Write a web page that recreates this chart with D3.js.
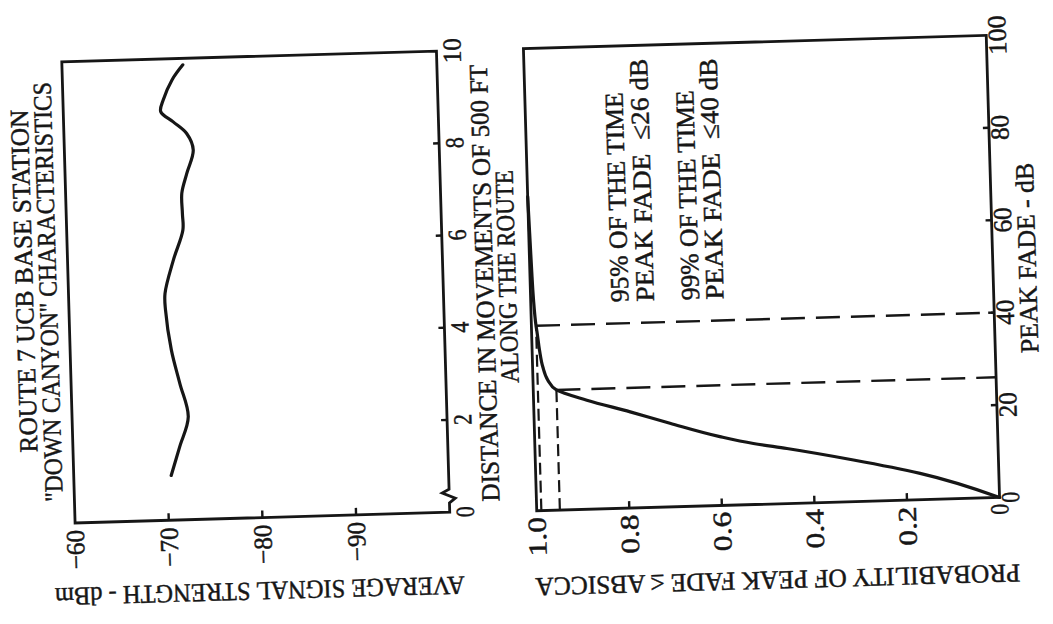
<!DOCTYPE html>
<html>
<head>
<meta charset="utf-8">
<script src="https://cdn.jsdelivr.net/npm/d3@7"></script>
<style>
  body { margin: 0; background: #fff; }
  svg { display: block; }
  text { font-family: "Liberation Serif", "DejaVu Serif", serif; font-size: 26px; fill: #161616; stroke: #161616; stroke-width: 0.45px; white-space: pre; }
</style>
</head>
<body>
<svg id="fig" width="1053" height="624"></svg>
<script>
// Route 7, UCB base station: average signal strength along the route
const distanceUnits = [0.97, 1.59, 2.23, 2.96, 3.69, 4.56, 4.92, 5.64, 6.28, 6.64, 7.08, 7.51, 8.01, 8.37, 8.63, 8.86, 9.11, 9.54, 9.86];
const avgSignalDbm  = [-70.4, -71.4, -72.4, -71.6, -70.8, -70.3, -70.3, -71.3, -72.4, -72.4, -72.4, -73.0, -73.75, -73.1, -71.7, -70.4, -70.7, -71.7, -72.9];

// Cumulative distribution of peak fade
const peakFadeDb = [0, 5.7, 9.0, 11.9, 13.2, 14.9, 18.1, 20.8, 23.6, 26, 28.2, 31.1, 34.7, 38.4, 40, 46, 52, 60, 68];
const probAtMost = [0, 0.170, 0.313, 0.456, 0.528, 0.600, 0.707, 0.792, 0.885, 0.95, 0.968, 0.978, 0.984, 0.988, 0.99, 0.994, 0.996, 0.998, 1.0];

// Marked percentiles
const markerProb = [0.95, 0.99];
const markerFade = [26, 40];

// Axis ticks
const distanceTicks = [0, 2, 4, 6, 8, 10];
const signalTicks   = [-60, -70, -80, -90];
const fadeTicks     = [0, 20, 40, 60, 80, 100];
const probTicks     = [1.0, 0.8, 0.6, 0.4, 0.2, 0];

const svg = d3.select("#fig");
// The sheet is turned a quarter turn, and sits slightly askew.
const page = svg.append("g")
  .attr("transform", "rotate(-1.65 526 312) translate(0 624) rotate(-90)");

const INK = "#161616";
const PITCH = 14.2, GLYPH = 11, HALF_CAP = 8.6;
const typedLen = s => (s.length - 1) * PITCH + GLYPH;

function typed(g, str, x, y, len, anchor = "middle", rot = 0) {
  const t = g.append("text")
    .text(str)
    .attr("text-anchor", anchor)
    .attr("textLength", len == null ? typedLen(str) : len)
    .attr("lengthAdjust", "spacingAndGlyphs");
  if (rot) t.attr("transform", `translate(${x},${y}) rotate(${rot})`);
  else t.attr("x", x).attr("y", y);
  return t;
}

/* ---------------- left panel: signal strength vs distance ---------------- */
const xL = d3.scaleLinear().domain([0, 10]).range([114.1, 575.4]);
const yL = d3.scaleLinear().domain([-60, -100]).range([69.2, 444]);
const gL = page.append("g");

// frame with a break mark on the distance axis near the origin
const brk = [[0.2, 0], [0.3, 6], [0.42, -7], [0.5, 0]];
const framePath = d3.path();
framePath.moveTo(xL(0), yL(-100));
brk.forEach(([d, o]) => framePath.lineTo(xL(d), yL(-100) + o));
framePath.lineTo(xL(10), yL(-100));
framePath.lineTo(xL(10), yL(-60));
framePath.lineTo(xL(0), yL(-60));
framePath.closePath();
gL.append("path").attr("d", framePath.toString())
  .attr("fill", "none").attr("stroke", INK).attr("stroke-width", 2.8)
  .attr("stroke-linejoin", "miter");

// inward ticks
gL.selectAll(".tx").data(distanceTicks.slice(1, -1)).join("line")
  .attr("x1", d => xL(d)).attr("x2", d => xL(d))
  .attr("y1", yL(-100)).attr("y2", yL(-100) - 6)
  .attr("stroke", INK).attr("stroke-width", 2.4);
gL.selectAll(".ty").data(signalTicks.slice(1)).join("line")
  .attr("x1", xL(0)).attr("x2", xL(0) + 7)
  .attr("y1", d => yL(d)).attr("y2", d => yL(d))
  .attr("stroke", INK).attr("stroke-width", 2.4);

// tick labels
distanceTicks.forEach(d => typed(gL, String(d), xL(d), yL(-100) + 7 + 2 * HALF_CAP));
signalTicks.forEach(d => typed(gL, "\u2212" + Math.abs(d), xL(0) - 7, yL(d) + HALF_CAP, null, "end"));

// curve
gL.append("path")
  .datum(distanceUnits.map((d, i) => [d, avgSignalDbm[i]]))
  .attr("d", d3.line().x(d => xL(d[0])).y(d => yL(d[1])).curve(d3.curveCatmullRom.alpha(0.5)))
  .attr("fill", "none").attr("stroke", INK).attr("stroke-width", 3.2)
  .attr("stroke-linecap", "round");

// titles
typed(gL, "ROUTE 7 UCB BASE STATION", 357.4, 25.1 + HALF_CAP, 343);
typed(gL, "\"DOWN CANYON\" CHARACTERISTICS", 345.8, 48.8 + HALF_CAP, 420);
typed(gL, "DISTANCE IN MOVEMENTS OF 500 FT", 342.2, 485.4 + HALF_CAP, 437);
typed(gL, "ALONG THE ROUTE", 348, 508 + HALF_CAP, 213);
typed(gL, "AVERAGE SIGNAL STRENGTH - dBm", 40.8 + HALF_CAP, 252, 410, "middle", -90);

/* ---------------- right panel: peak fade distribution ---------------- */
const xR = d3.scaleLinear().domain([0, 100]).range([113, 575.3]);
const yR = d3.scaleLinear().domain([1, 0]).range([531, 994]);
const gR = page.append("g");

gR.append("rect")
  .attr("x", xR(0)).attr("y", yR(1))
  .attr("width", xR(100) - xR(0)).attr("height", yR(0) - yR(1))
  .attr("fill", "none").attr("stroke", INK).attr("stroke-width", 2.8);

gR.selectAll(".tx").data(fadeTicks.slice(1, -1)).join("line")
  .attr("x1", d => xR(d)).attr("x2", d => xR(d))
  .attr("y1", yR(0)).attr("y2", yR(0) - 6)
  .attr("stroke", INK).attr("stroke-width", 2.4);
gR.selectAll(".ty").data(probTicks.slice(1, -1)).join("line")
  .attr("x1", xR(0)).attr("x2", xR(0) + 7)
  .attr("y1", d => yR(d)).attr("y2", d => yR(d))
  .attr("stroke", INK).attr("stroke-width", 2.4);

fadeTicks.forEach(d => typed(gR, String(d), xR(d), yR(0) + 11 + HALF_CAP));
probTicks.forEach(d => typed(gR, d === 0 ? "0" : d.toFixed(1), xR(0) - 6.3, yR(d) + HALF_CAP, null, "end"));

// percentile guides
markerFade.forEach((f, i) => {
  gR.append("line")
    .attr("x1", xR(f)).attr("x2", xR(f))
    .attr("y1", yR(markerProb[i])).attr("y2", yR(0))
    .attr("stroke", INK).attr("stroke-width", 2.4).attr("stroke-dasharray", "24 11");
  gR.append("line")
    .attr("x1", xR(0)).attr("x2", xR(f))
    .attr("y1", yR(markerProb[i])).attr("y2", yR(markerProb[i]))
    .attr("stroke", INK).attr("stroke-width", 2.2).attr("stroke-dasharray", "12 6");
});

// distribution curve
gR.append("path")
  .datum(peakFadeDb.map((f, i) => [f, probAtMost[i]]))
  .attr("d", d3.line().x(d => xR(d[0])).y(d => yR(d[1])).curve(d3.curveMonotoneX))
  .attr("fill", "none").attr("stroke", INK).attr("stroke-width", 3.2)
  .attr("stroke-linecap", "round");

// annotations
typed(gR, "95% OF THE TIME", 319, 620.2 + HALF_CAP, 210, "start");
typed(gR, "PEAK FADE  \u226426 dB", 319, 645.7 + HALF_CAP, 243, "start");
typed(gR, "99% OF THE TIME", 319, 690.9 + HALF_CAP, 210, "start");
typed(gR, "PEAK FADE  \u226440 dB", 319, 715.3 + HALF_CAP, 241, "start");

typed(gR, "PEAK FADE - dB", 351.6, 1028.4 + HALF_CAP, 190);
typed(gR, "PROBABILITY OF PEAK FADE \u2264 ABSICCA", 36.9 + HALF_CAP, 770, 485, "middle", -90);
</script>
</body>
</html>
